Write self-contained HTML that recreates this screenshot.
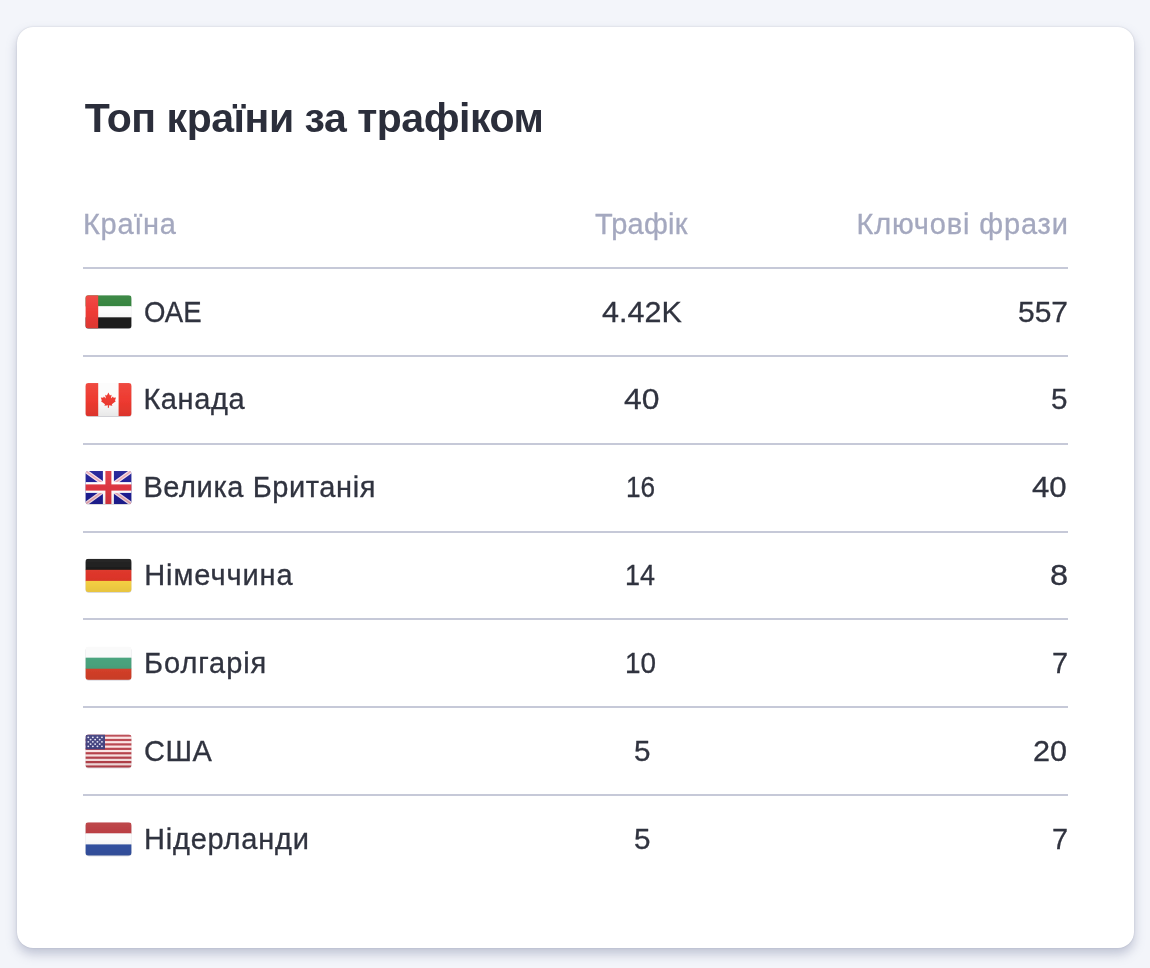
<!DOCTYPE html>
<html lang="uk">
<head>
<meta charset="utf-8">
<title>Топ країни за трафіком</title>
<style>
*{box-sizing:border-box;margin:0;padding:0}
html,body{width:1150px;height:968px;overflow:hidden}
body{background:#f3f5fa;font-family:"Liberation Sans",Arial,sans-serif;color:#30333f;position:relative}
.card{position:absolute;left:17px;top:27px;width:1117px;height:921px;background:#fff;border-radius:16px;box-shadow:0 6px 11px rgba(120,126,160,.42),0 0 1.5px rgba(90,95,115,.3)}
h1{position:absolute;left:84px;top:95px;font-size:41px;line-height:46px;font-weight:700;color:#2b2e3b;white-space:nowrap}
.x{position:absolute;font-size:29px;line-height:34px;white-space:nowrap;-webkit-text-stroke:.3px currentColor}
.x span,h1 span{display:inline-block}
.th{color:#a4a8bf}
.line{position:absolute;left:83px;width:985px;height:2px;background:#c6c9d8}
.flag{position:absolute;overflow:visible}
</style>
</head>
<body>
<svg width="0" height="0" style="position:absolute"><defs>
<linearGradient id="g" x1="0" y1="0" x2="0" y2="1"><stop offset="0" stop-color="#fff" stop-opacity=".08"/><stop offset=".5" stop-color="#fff" stop-opacity="0"/><stop offset=".5" stop-color="#000" stop-opacity="0"/><stop offset="1" stop-color="#000" stop-opacity=".08"/></linearGradient>
<clipPath id="clip"><rect x="0" y="0" width="46.2" height="33.2" rx="3.2"/></clipPath>
<filter id="sh" x="-10%" y="-10%" width="120%" height="130%"><feGaussianBlur stdDeviation="0.7"/></filter>
<filter id="bl" x="-5%" y="-5%" width="110%" height="110%"><feGaussianBlur stdDeviation="0.45"/></filter>
</defs></svg>
<div class="card"></div>
<h1 id="title" style="left:84.80px;top:95px"><span style="letter-spacing:-0.47px;">Топ країни за трафіком</span></h1>
<div id="h0" class="x th" style="left:83.00px;top:207px"><span style="letter-spacing:0.70px;">Країна</span></div>
<div id="h1" class="x th" style="left:595.00px;top:207px"><span style="letter-spacing:0.20px;">Трафік</span></div>
<div id="h2" class="x th" style="left:856.40px;top:207px"><span style="letter-spacing:0.85px;">Ключові фрази</span></div>
<div id="c0" class="x" style="left:144.46px;top:295px"><span style="transform:scaleX(0.950);transform-origin:0 0;">ОАЕ</span></div>
<div id="t0" class="x" style="left:601.79px;top:295px"><span style="transform:scaleX(1.052);transform-origin:0 0;">4.42K</span></div>
<div id="k0" class="x" style="left:1017.97px;top:295px"><span style="transform:scaleX(1.033);transform-origin:0 0;">557</span></div>
<div id="c1" class="x" style="left:143.40px;top:382px"><span style="letter-spacing:0.58px;">Канада</span></div>
<div id="t1" class="x" style="left:623.74px;top:382px"><span style="transform:scaleX(1.097);transform-origin:0 0;">40</span></div>
<div id="k1" class="x" style="left:1051.38px;top:382px"><span style="transform:scaleX(1.021);transform-origin:0 0;">5</span></div>
<div id="c2" class="x" style="left:143.40px;top:470px"><span style="letter-spacing:0.59px;">Велика Британія</span></div>
<div id="t2" class="x" style="left:626.14px;top:470px"><span style="transform:scaleX(0.903);transform-origin:0 0;">16</span></div>
<div id="k2" class="x" style="left:1032.34px;top:470px"><span style="transform:scaleX(1.074);transform-origin:0 0;">40</span></div>
<div id="c3" class="x" style="left:144.20px;top:558px"><span style="letter-spacing:0.93px;">Німеччина</span></div>
<div id="t3" class="x" style="left:624.75px;top:558px"><span style="transform:scaleX(0.930);transform-origin:0 0;">14</span></div>
<div id="k3" class="x" style="left:1049.88px;top:558px"><span style="transform:scaleX(1.121);transform-origin:0 0;">8</span></div>
<div id="c4" class="x" style="left:144.00px;top:646px"><span style="letter-spacing:0.93px;">Болгарія</span></div>
<div id="t4" class="x" style="left:624.68px;top:646px"><span style="transform:scaleX(0.962);transform-origin:0 0;">10</span></div>
<div id="k4" class="x" style="left:1051.61px;top:646px"><span style="transform:scaleX(0.993);transform-origin:0 0;">7</span></div>
<div id="c5" class="x" style="left:144.00px;top:734px"><span style="letter-spacing:0.55px;">США</span></div>
<div id="t5" class="x" style="left:633.58px;top:734px"><span style="transform:scaleX(1.021);transform-origin:0 0;">5</span></div>
<div id="k5" class="x" style="left:1032.95px;top:734px"><span style="transform:scaleX(1.055);transform-origin:0 0;">20</span></div>
<div id="c6" class="x" style="left:144.00px;top:822px"><span style="letter-spacing:0.79px;">Нідерланди</span></div>
<div id="t6" class="x" style="left:633.58px;top:822px"><span style="transform:scaleX(1.021);transform-origin:0 0;">5</span></div>
<div id="k6" class="x" style="left:1051.61px;top:822px"><span style="transform:scaleX(0.993);transform-origin:0 0;">7</span></div>
<div class="line" style="top:267px"></div>
<div class="line" style="top:355px"></div>
<div class="line" style="top:443px"></div>
<div class="line" style="top:531px"></div>
<div class="line" style="top:618px"></div>
<div class="line" style="top:706px"></div>
<div class="line" style="top:794px"></div>
<svg class="flag" style="left:83px;top:293px" width="52" height="40" viewBox="0 0 52 40"><g transform="translate(2.40,2.20)"><rect x="0.2" y="0.9" width="45.800000000000004" height="33.0" rx="3.2" fill="rgba(60,60,80,.25)" filter="url(#sh)"/><g filter="url(#bl)"><g clip-path="url(#clip)"><rect width="46.2" height="33.2" fill="#fff"/><rect x="0" y="0.00" width="46.2" height="11.37" fill="#2f8038"/><rect x="0" y="11.07" width="46.2" height="11.37" fill="#fbfbfb"/><rect x="0" y="22.13" width="46.2" height="11.37" fill="#1c1c1c"/><rect x="0" y="0" width="12.8" height="33.2" fill="#ee3b36"/><rect x="0" y="0" width="46.2" height="33.2" fill="url(#g)"/></g></g></g></svg>
<svg class="flag" style="left:83px;top:381px" width="52" height="40" viewBox="0 0 52 40"><g transform="translate(2.40,2.05)"><rect x="0.2" y="0.9" width="45.800000000000004" height="33.0" rx="3.2" fill="rgba(60,60,80,.25)" filter="url(#sh)"/><g filter="url(#bl)"><g clip-path="url(#clip)"><rect width="46.2" height="33.2" fill="#fcfcfc"/><rect x="0" y="0" width="12.8" height="33.2" fill="#ee3a30"/><rect x="33.2" y="0" width="13.0" height="33.2" fill="#ee3a30"/><path transform="translate(23.00,17.00)" d="M0,-7.6 L1.5,-4.6 L3.2,-5.4 L2.5,-1.6 L4.6,-3.6 L5.2,-2.2 L7.6,-2.6 L6.6,0.4 L7.4,1.2 L3.4,4.2 L4,5.6 L0.5,5.1 L0.6,7.8 L-0.6,7.8 L-0.5,5.1 L-4,5.6 L-3.4,4.2 L-7.4,1.2 L-6.6,0.4 L-7.6,-2.6 L-5.2,-2.2 L-4.6,-3.6 L-2.5,-1.6 L-3.2,-5.4 L-1.5,-4.6 Z" fill="#ee3a30"/><rect x="0" y="0" width="46.2" height="33.2" fill="url(#g)"/></g></g></g></svg>
<svg class="flag" style="left:83px;top:468px" width="52" height="40" viewBox="0 0 52 40"><g transform="translate(2.40,2.90)"><rect x="0.2" y="0.9" width="45.800000000000004" height="33.0" rx="3.2" fill="rgba(60,60,80,.25)" filter="url(#sh)"/><g filter="url(#bl)"><g clip-path="url(#clip)"><rect width="46.2" height="33.2" fill="#1c1c94"/><path d="M0,0 L46.2,33.2 M46.2,0 L0,33.2" stroke="#f3dfe8" stroke-width="4.0"/><path d="M0,0 L46.2,33.2 M46.2,0 L0,33.2" stroke="#e9a3ae" stroke-width="1.5"/><rect x="17.50" y="0" width="11" height="33.2" fill="#fff"/><rect x="0" y="11.20" width="46.2" height="10.8" fill="#fff"/><rect x="20.00" y="0" width="6" height="33.2" fill="#dc3540"/><rect x="0" y="13.50" width="46.2" height="6.2" fill="#dc3540"/><rect x="0" y="0" width="46.2" height="33.2" fill="url(#g)"/></g></g></g></svg>
<svg class="flag" style="left:83px;top:556px" width="52" height="40" viewBox="0 0 52 40"><g transform="translate(2.40,2.75)"><rect x="0.2" y="0.9" width="45.800000000000004" height="33.0" rx="3.2" fill="rgba(60,60,80,.25)" filter="url(#sh)"/><g filter="url(#bl)"><g clip-path="url(#clip)"><rect x="0" y="0.00" width="46.2" height="11.37" fill="#161616"/><rect x="0" y="11.07" width="46.2" height="11.37" fill="#dd3529"/><rect x="0" y="22.13" width="46.2" height="11.37" fill="#fbd545"/><rect x="0" y="0" width="46.2" height="33.2" fill="url(#g)"/></g></g></g></svg>
<svg class="flag" style="left:83px;top:644px" width="52" height="40" viewBox="0 0 52 40"><g transform="translate(2.40,2.60)"><rect x="0.2" y="0.9" width="45.800000000000004" height="33.0" rx="3.2" fill="rgba(60,60,80,.25)" filter="url(#sh)"/><g filter="url(#bl)"><g clip-path="url(#clip)"><rect x="0" y="0.00" width="46.2" height="11.37" fill="#fafafa"/><rect x="0" y="11.07" width="46.2" height="11.37" fill="#48a27c"/><rect x="0" y="22.13" width="46.2" height="11.37" fill="#d9412a"/><rect x="0" y="0" width="46.2" height="33.2" fill="url(#g)"/></g></g></g></svg>
<svg class="flag" style="left:83px;top:732px" width="52" height="40" viewBox="0 0 52 40"><g transform="translate(2.40,2.45)"><rect x="0.2" y="0.9" width="45.800000000000004" height="33.0" rx="3.2" fill="rgba(60,60,80,.25)" filter="url(#sh)"/><g filter="url(#bl)"><g clip-path="url(#clip)"><rect width="46.2" height="33.2" fill="#fbe4e4"/><rect x="0" y="0.00" width="46.2" height="2.21" fill="#b8434d"/><rect x="0" y="4.43" width="46.2" height="2.21" fill="#b8434d"/><rect x="0" y="8.85" width="46.2" height="2.21" fill="#b8434d"/><rect x="0" y="13.28" width="46.2" height="2.21" fill="#b8434d"/><rect x="0" y="17.71" width="46.2" height="2.21" fill="#b8434d"/><rect x="0" y="22.13" width="46.2" height="2.21" fill="#b8434d"/><rect x="0" y="26.56" width="46.2" height="2.21" fill="#b8434d"/><rect x="0" y="30.99" width="46.2" height="2.21" fill="#b8434d"/><rect x="0" y="0" width="19.6" height="14.9" fill="#3e3d7c"/><circle cx="2.90" cy="2.90" r="0.95" fill="#e4e4f4"/><circle cx="7.45" cy="2.90" r="0.95" fill="#e4e4f4"/><circle cx="12.00" cy="2.90" r="0.95" fill="#e4e4f4"/><circle cx="16.55" cy="2.90" r="0.95" fill="#e4e4f4"/><circle cx="5.20" cy="5.15" r="0.95" fill="#e4e4f4"/><circle cx="9.75" cy="5.15" r="0.95" fill="#e4e4f4"/><circle cx="14.30" cy="5.15" r="0.95" fill="#e4e4f4"/><circle cx="2.90" cy="7.40" r="0.95" fill="#e4e4f4"/><circle cx="7.45" cy="7.40" r="0.95" fill="#e4e4f4"/><circle cx="12.00" cy="7.40" r="0.95" fill="#e4e4f4"/><circle cx="16.55" cy="7.40" r="0.95" fill="#e4e4f4"/><circle cx="5.20" cy="9.65" r="0.95" fill="#e4e4f4"/><circle cx="9.75" cy="9.65" r="0.95" fill="#e4e4f4"/><circle cx="14.30" cy="9.65" r="0.95" fill="#e4e4f4"/><circle cx="2.90" cy="11.90" r="0.95" fill="#e4e4f4"/><circle cx="7.45" cy="11.90" r="0.95" fill="#e4e4f4"/><circle cx="12.00" cy="11.90" r="0.95" fill="#e4e4f4"/><circle cx="16.55" cy="11.90" r="0.95" fill="#e4e4f4"/><rect x="0" y="0" width="46.2" height="33.2" fill="url(#g)"/></g></g></g></svg>
<svg class="flag" style="left:83px;top:820px" width="52" height="40" viewBox="0 0 52 40"><g transform="translate(2.40,2.30)"><rect x="0.2" y="0.9" width="45.800000000000004" height="33.0" rx="3.2" fill="rgba(60,60,80,.25)" filter="url(#sh)"/><g filter="url(#bl)"><g clip-path="url(#clip)"><rect x="0" y="0.00" width="46.2" height="11.37" fill="#b8383d"/><rect x="0" y="11.07" width="46.2" height="11.37" fill="#fbfbfb"/><rect x="0" y="22.13" width="46.2" height="11.37" fill="#3453a4"/><rect x="0" y="0" width="46.2" height="33.2" fill="url(#g)"/></g></g></g></svg>
</body>
</html>
